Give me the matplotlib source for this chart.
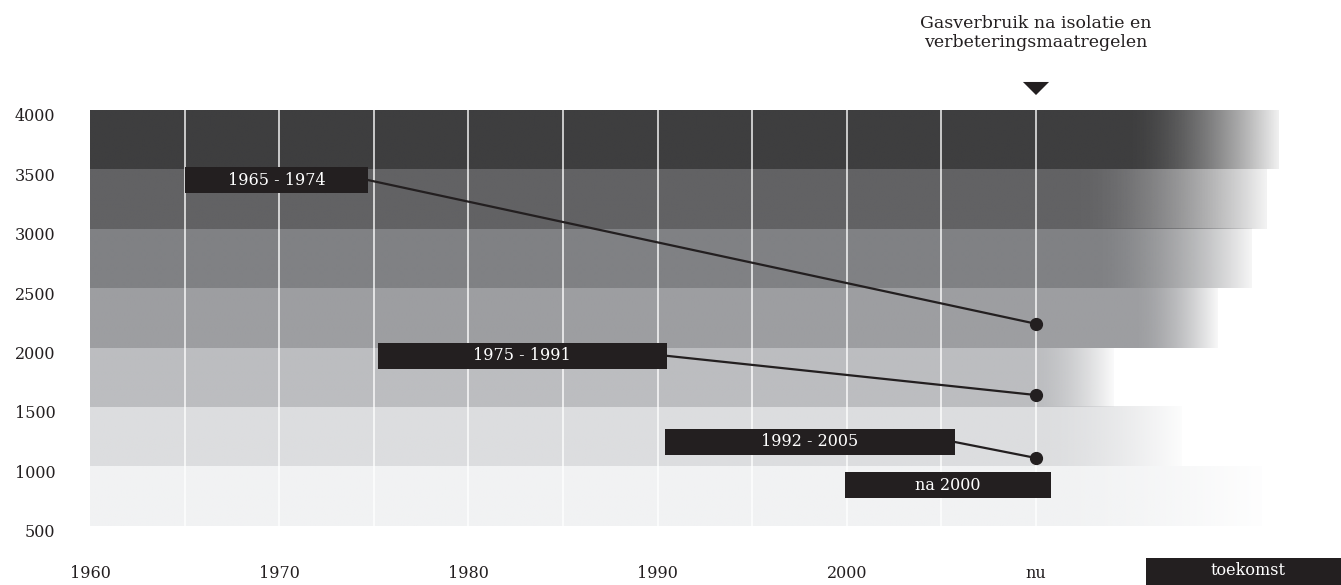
import matplotlib.pyplot as plt
import numpy as np
from matplotlib import patches
from matplotlib.colors import to_rgb
from matplotlib.transforms import ScaledTranslation

plt.rcParams['font.family'] = ['DejaVu Serif']

# gas usage bands (m3 per year), from low to high
band_low = [500, 1000, 1500, 2000, 2500, 3000, 3500]
band_colors = ['#f1f2f3', '#dcdddf', '#bcbdc0', '#9d9ea1', '#808184', '#626264', '#3e3e3f']
fade_start = [2010.0, 2010.0, 2010.0, 2015.3, 2013.3, 2012.4, 2015.1]
fade_end = [2021.9, 2017.7, 2014.1, 2019.6, 2021.4, 2022.2, 2022.8]

# building periods, where their label sits and their usage now
period_labels = ['1965 - 1974', '1975 - 1991', '1992 - 2005', 'na 2000']
period_from = [1965.0, 1975.2, 1990.4, 1999.9]
period_to = [1974.7, 1990.5, 2005.7, 2010.8]
period_level = [3410, 1930, 1205, 842]
usage_now = [2200, 1600, 1070]

year_ticks = [1960, 1970, 1980, 1990, 2000, 2010]
year_labels = ['1960', '1970', '1980', '1990', '2000', 'nu']
usage_ticks = [500, 1000, 1500, 2000, 2500, 3000, 3500, 4000]
grid_years = list(range(1965, 2011, 5))
now = 2010

dark = '#231f20'

fig = plt.figure(figsize=(13.41, 5.85), dpi=100)
ax = fig.add_axes([90 / 1341, 59.3 / 585, 1251 / 1341, 415.7 / 585])

# bands with a fade to white on the right
for lo, col, fs, fe in zip(band_low, band_colors, fade_start, fade_end):
    xs = np.linspace(1960, fe, 800)
    t = np.clip((xs - fs) / (fe - fs), 0, 1)
    img = np.zeros((1, len(xs), 4))
    img[..., :3] = to_rgb(col)
    img[0, :, 3] = 1 - 0.92 * t ** 1.6
    ax.imshow(img, extent=(1960, fe, lo, lo + 500), aspect='auto',
              interpolation='bilinear', zorder=1)

ax.vlines(grid_years, 500, 4000, colors='white', lw=1.2, alpha=0.85, zorder=2)

# connectors from the period labels to the usage now
for i, val in enumerate(usage_now):
    ax.plot([period_to[i], now], [period_level[i], val], color=dark, lw=1.6, zorder=3)
    ax.plot(now, val, 'o', ms=8.5, color=dark, zorder=5)

for lab, x0, x1, lev in zip(period_labels, period_from, period_to, period_level):
    ax.add_patch(patches.Rectangle((x0, lev - 110), x1 - x0, 220, fc=dark, ec='none', zorder=4))
    ax.text((x0 + x1) / 2, lev, lab, color='white', fontsize=11.5,
            ha='center', va='center', zorder=6)

# marker and caption for "now"
ax.add_patch(patches.Polygon([(now - 0.69, 4236), (now + 0.69, 4236), (now, 4126)],
                             closed=True, fc=dark, ec='none', clip_on=False))
ax.text(now, 4650, 'Gasverbruik na isolatie en\nverbeteringsmaatregelen',
        ha='center', va='center', fontsize=12.5, color=dark, linespacing=1.15)

# future box on the x axis
ax.add_patch(patches.Rectangle((2015.8, 0), 12, 228, fc=dark, ec='none', clip_on=False))
ax.text(2021.2, 119, 'toekomst', color='white', fontsize=11.5, ha='center', va='center')

ax.set_xlim(1960, 1960 + 1251 / 18.92)
ax.set_ylim(500, 4000)
ax.set_xticks(year_ticks, year_labels)
ax.set_yticks(usage_ticks, [str(v) for v in usage_ticks])
ax.tick_params(length=0, labelsize=11.5, labelcolor=dark)
ax.tick_params(axis='y', pad=25)
ax.tick_params(axis='x', pad=28)
for lab in ax.get_yticklabels():
    lab.set_transform(lab.get_transform() + ScaledTranslation(0, -5 / 100, fig.dpi_scale_trans))
for s in ax.spines.values():
    s.set_visible(False)

fig.savefig('out.png', dpi=100)
